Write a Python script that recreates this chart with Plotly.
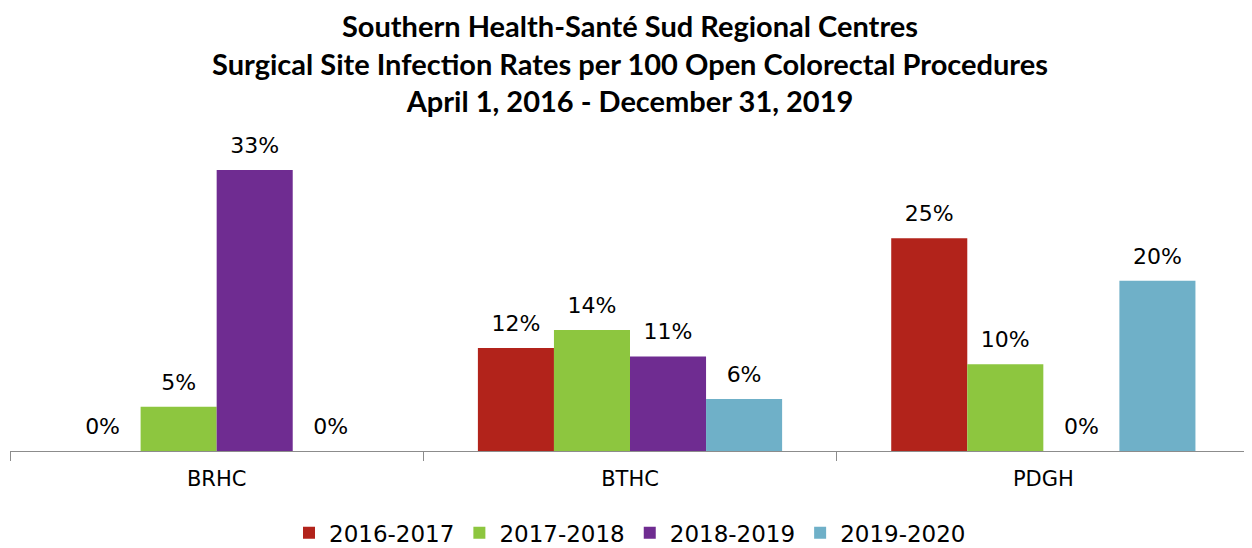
import plotly.graph_objects as go

categories = ["BRHC", "BTHC", "PDGH"]
series_names = ["2016-2017", "2017-2018", "2018-2019", "2019-2020"]
values = {
    "2016-2017": [0, 12.1, 25],
    "2017-2018": [5.2, 14.2, 10.2],
    "2018-2019": [33.0, 11.1, 0],
    "2019-2020": [0, 6.1, 20],
}
colors = {
    "2016-2017": "#B2231B",
    "2017-2018": "#8DC63F",
    "2018-2019": "#6F2C91",
    "2019-2020": "#6FB0C8",
}
title_lines = [
    "Southern Health-Santé Sud Regional Centres",
    "Surgical Site Infection Rates per 100 Open Colorectal Procedures",
    "April 1, 2016 - December 31, 2019",
]

label_font = "DejaVu Sans, sans-serif"

fig = go.Figure()
for name in series_names:
    fig.add_trace(go.Bar(
        x=categories, y=values[name], name=name,
        marker=dict(color=colors[name], line=dict(width=0)),
        offsetgroup=name,
    ))
for name in series_names:
    fig.add_trace(go.Scatter(
        x=categories, y=values[name], name=name, showlegend=False,
        mode="markers+text", offsetgroup=name,
        marker=dict(size=17, opacity=0, color=colors[name]),
        text=[f"{v:.0f}%" for v in values[name]], textposition="top center",
        textfont=dict(size=22, color="#000000", family=label_font),
        cliponaxis=False, hoverinfo="skip",
    ))

fig.add_annotation(
    text="<b>" + "<br>".join(title_lines) + "</b>",
    xref="paper", yref="paper", x=0.5, y=1.232,
    xanchor="center", yanchor="middle", showarrow=False,
    font=dict(family="Lato, Open Sans, sans-serif", size=29, color="#000000"),
)

fig.update_layout(
    width=1252, height=548,
    barmode="group", bargap=0.264, bargroupgap=0,
    scattermode="group", scattergap=0.264,
    plot_bgcolor="white", paper_bgcolor="white",
    margin=dict(l=2, r=10, t=128, b=105, autoexpand=False),
    xaxis=dict(
        showline=True, linecolor="#8C8C8C", linewidth=1,
        ticks="outside", tickson="boundaries", ticklen=9, tickcolor="#8C8C8C",
        tickfont=dict(size=21, family=label_font, color="#000000"),
        ticklabelstandoff=9,
        showgrid=False,
    ),
    yaxis=dict(range=[0, 37], visible=False, showgrid=False),
    legend=dict(
        orientation="h", x=0.5, xanchor="center", y=-0.26, yanchor="middle",
        font=dict(size=23, family=label_font, color="#000000"),
        traceorder="normal", itemwidth=30,
    ),
    showlegend=True,
)

fig.write_html("out.html")
